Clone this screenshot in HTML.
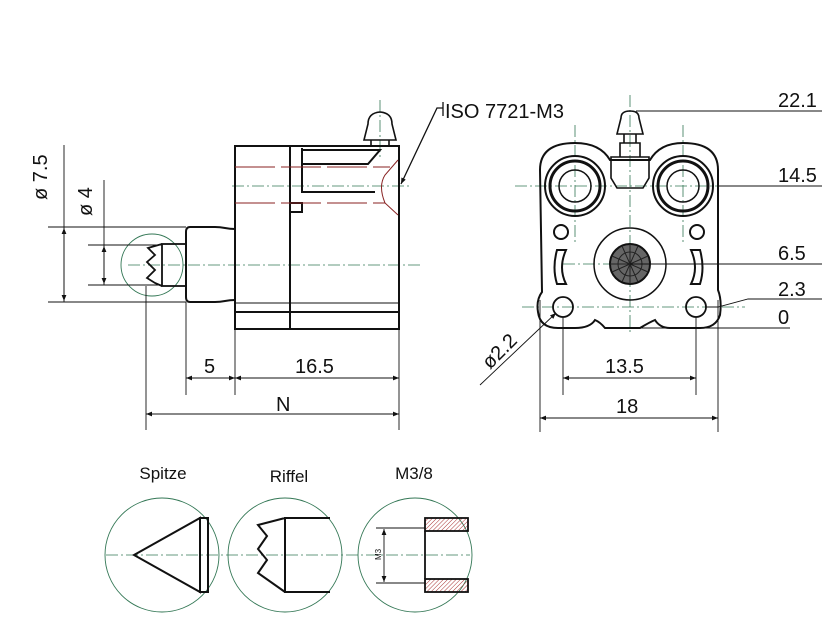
<!DOCTYPE html>
<html><head><style>body{margin:0;background:#fff}svg{display:block}</style></head><body>
<svg width="828" height="643" viewBox="0 0 828 643" xmlns="http://www.w3.org/2000/svg" font-family="Liberation Sans, sans-serif">
<defs>
<marker id="a" viewBox="0 0 10 10" refX="10" refY="5" markerWidth="14" markerHeight="6" orient="auto-start-reverse" markerUnits="userSpaceOnUse"><path d="M0,1 L10,5 L0,9z" fill="#111"/></marker>
<pattern id="h" width="3" height="3" patternUnits="userSpaceOnUse" patternTransform="rotate(45)"><line x1="0" y1="0" x2="0" y2="3" stroke="#a33" stroke-width="1"/></pattern>
</defs>
<g stroke-width="0.8" fill="none" stroke-dasharray="12,3,2,3">
<line x1="128" y1="265" x2="420" y2="265" stroke="#375"/>
<line x1="232" y1="186" x2="410" y2="186" stroke="#375"/>
<line x1="380" y1="100" x2="380" y2="160" stroke="#375"/>
<line x1="630" y1="95" x2="630" y2="332" stroke="#375"/>
<line x1="575" y1="125" x2="575" y2="245" stroke="#375"/>
<line x1="683" y1="125" x2="683" y2="245" stroke="#375"/>
<line x1="515" y1="186" x2="745" y2="186" stroke="#375"/>
<line x1="522" y1="307" x2="745" y2="307" stroke="#375"/>
<line x1="563" y1="264" x2="700" y2="264" stroke="#375"/>
<line x1="106" y1="555" x2="470" y2="555" stroke="#375"/>
</g>
<g fill="none" stroke="#375" stroke-width="0.9">
<circle cx="152" cy="265" r="31"/>
<circle cx="162" cy="555" r="57"/>
<circle cx="285" cy="555" r="57"/>
<circle cx="415" cy="555" r="57"/>
</g>
<g fill="none" stroke="#111" stroke-width="2">
<rect x="235" y="146" width="164" height="183"/>
<line x1="290" y1="146" x2="290" y2="329"/>
<line x1="235" y1="312" x2="399" y2="312"/>
<line x1="235" y1="303" x2="399" y2="303" stroke-width="1"/>
<path d="M302,148 V192 H375 M302,150 H380 L368,164 H302"/>
<path d="M290,203 H302 V212 H290"/>
<path d="M235,229 C225,229 225,227 215,227 H190 Q186,227 186,232 V297 Q186,302 190,302 H215 C225,302 225,300 235,300"/>
<rect x="162" y="244" width="24" height="42" stroke-width="1.8"/>
<path d="M162,244 L148,248 L155,255 L147,262 L155,270 L147,278 L155,283 L162,286" stroke-width="1.8"/>
<path d="M364,140 L368,124 Q368,113 380,112 Q392,113 392,124 L396,140 Z M371,140 V147 M389,140 V147" stroke-width="1.6"/>
</g>
<g fill="none" stroke="#822" stroke-width="1">
<path d="M235,167 H390 M235,203 H385" stroke-dasharray="40,6"/>
<path d="M398,160 L385,175 Q378,186 385,203 L398,215"/>
</g>
<g stroke="#111" stroke-width="0.9" fill="none">
<line x1="48" y1="227" x2="186" y2="227"/><line x1="48" y1="302" x2="186" y2="302"/>
<line x1="64" y1="145" x2="64" y2="302"/>
<line x1="64" y1="228" x2="64" y2="301" marker-start="url(#a)" marker-end="url(#a)"/>
<line x1="88" y1="245" x2="162" y2="245"/><line x1="88" y1="285" x2="162" y2="285"/>
<line x1="104" y1="180" x2="104" y2="285"/>
<line x1="104" y1="246" x2="104" y2="284" marker-start="url(#a)" marker-end="url(#a)"/>
<line x1="186" y1="302" x2="186" y2="395"/><line x1="235" y1="329" x2="235" y2="395"/>
<line x1="399" y1="329" x2="399" y2="430"/><line x1="146" y1="286" x2="146" y2="430"/>
<line x1="186" y1="378" x2="235" y2="378" marker-start="url(#a)" marker-end="url(#a)"/>
<line x1="235" y1="378" x2="399" y2="378" marker-start="url(#a)" marker-end="url(#a)"/>
<line x1="146" y1="414" x2="399" y2="414" marker-start="url(#a)" marker-end="url(#a)"/>
<path d="M443,102 V116 M443,108 H437 L401,184" marker-end="url(#a)" stroke-width="1.3"/>
</g>
<g font-size="20" fill="#111">
<text x="47" y="200" transform="rotate(-90 47 200)" font-size="20">ø 7.5</text>
<text x="92" y="216" transform="rotate(-90 92 216)" font-size="20">ø 4</text>
<text x="204" y="373">5</text><text x="295" y="373">16.5</text><text x="276" y="411">N</text>
<text x="445" y="118">ISO 7721-M3</text>
</g>
<g fill="none" stroke="#111" stroke-width="2">
<path d="M540,170 Q540,143 575,143 Q600,143 610,160 H650 Q660,143 683,143 Q718,143 718,170 V290 Q722,300 720,315 Q716,328 700,328 H670 Q660,328 655,320 Q650,322 640,328 H605 Q600,322 595,320 Q590,328 575,328 H558 Q540,328 538,312 Q536,300 542,292 Z"/>
<circle cx="575" cy="186" r="30"/><circle cx="575" cy="186" r="25" stroke-width="3"/><circle cx="575" cy="186" r="16" stroke-width="1.5"/>
<circle cx="683" cy="186" r="30"/><circle cx="683" cy="186" r="25" stroke-width="3"/><circle cx="683" cy="186" r="16" stroke-width="1.5"/>
<path d="M611,157 V178 L617,188 H643 L649,178 V157 Z M620,157 V143 H640 V157 M617,134 L621,118 Q621,111 630,111 Q639,111 639,118 L643,134 Z M624,134 V143 M636,134 V143" stroke-width="1.6"/>
<circle cx="630" cy="264" r="36" stroke-width="1.5"/>
<circle cx="563" cy="307" r="10" stroke-width="1.8"/><circle cx="696" cy="307" r="10" stroke-width="1.8"/>
<circle cx="561" cy="232" r="7"/><circle cx="697" cy="232" r="7"/>
<path d="M557,250 H566 Q558,268 566,284 H557 Q552,268 557,250Z M700,250 H691 Q699,268 691,284 H700 Q705,268 700,250Z"/>
</g>
<circle cx="630" cy="264" r="20" fill="#666" stroke="#111" stroke-width="2"/>
<g stroke="#222" stroke-width="1" fill="none"><path d="M612,256 L648,272 M612,272 L648,256 M622,246 L638,282 M638,246 L622,282 M610,264 H650 M630,244 V284"/><circle cx="630" cy="264" r="12"/></g>
<g stroke="#111" stroke-width="0.9" fill="none">
<line x1="636" y1="111" x2="822" y2="111"/><line x1="718" y1="186" x2="822" y2="186"/>
<line x1="630" y1="264" x2="822" y2="264"/><path d="M706,307 H718 L748,299 H822"/>
<line x1="630" y1="328" x2="790" y2="328"/>
<line x1="563" y1="317" x2="563" y2="395"/><line x1="696" y1="317" x2="696" y2="395"/>
<line x1="540" y1="300" x2="540" y2="432"/><line x1="718" y1="300" x2="718" y2="432"/>
<line x1="563" y1="378" x2="696" y2="378" marker-start="url(#a)" marker-end="url(#a)"/>
<line x1="540" y1="418" x2="718" y2="418" marker-start="url(#a)" marker-end="url(#a)"/>
<line x1="480" y1="385" x2="556" y2="313" marker-end="url(#a)"/>
</g>
<g font-size="20" fill="#111">
<text x="778" y="107">22.1</text><text x="778" y="182">14.5</text><text x="778" y="260">6.5</text>
<text x="778" y="296">2.3</text><text x="778" y="324">0</text>
<text x="605" y="373">13.5</text><text x="616" y="413">18</text>
<text x="490" y="370" transform="rotate(-45 490 370)">ø2.2</text>
</g>
<g font-size="17" fill="#111" text-anchor="middle">
<text x="163" y="479">Spitze</text><text x="289" y="482">Riffel</text><text x="414" y="479">M3/8</text>
</g>
<g fill="none" stroke="#111" stroke-width="2">
<path d="M134,555 L200,518 V592 Z"/><rect x="200" y="518" width="8" height="74"/>
<path d="M330,518 H285 V592 H330 M285,518 L258,525 L267,536 L258,549 L267,560 L258,573 L285,592"/>
</g>
<rect x="425" y="518" width="43" height="13" fill="url(#h)" stroke="#111" stroke-width="1.8"/>
<rect x="425" y="579" width="43" height="13" fill="url(#h)" stroke="#111" stroke-width="1.8"/>
<g stroke="#111" stroke-width="0.9" fill="none">
<line x1="425" y1="531" x2="425" y2="579" stroke-width="1.8"/>
<line x1="376" y1="528" x2="425" y2="528"/><line x1="376" y1="583" x2="425" y2="583"/>
<line x1="384" y1="529" x2="384" y2="582" marker-start="url(#a)" marker-end="url(#a)"/>
</g>
<text x="381" y="560" font-size="8" transform="rotate(-90 381 560)" fill="#111">M3</text>
</svg>
</body></html>
